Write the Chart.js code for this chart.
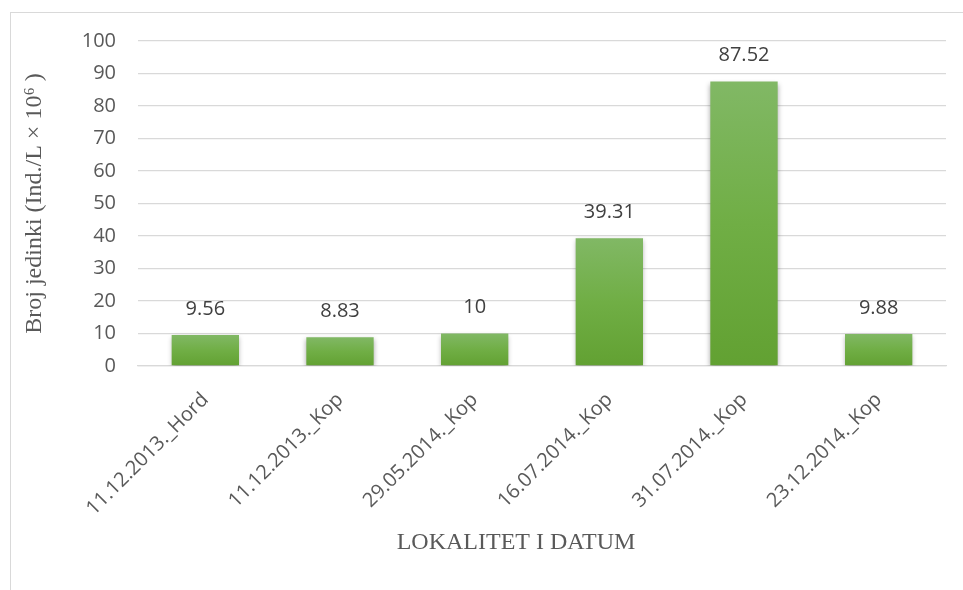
<!DOCTYPE html>
<html>
<head>
<meta charset="utf-8">
<script src="https://cdn.jsdelivr.net/npm/chart.js@4/dist/chart.umd.min.js"></script>
<style>
  html, body { margin: 0; padding: 0; background: #fff; }
  #frame {
    position: absolute; left: 10px; top: 12px; width: 960px; height: 600px;
    border-left: 1px solid #d9d9d9; border-top: 1px solid #d9d9d9;
  }
  #wrap { position: absolute; left: 0; top: 0; width: 963px; height: 590px; }
</style>
</head>
<body>
<div id="frame"></div>
<div id="wrap"><canvas id="barChart"></canvas></div>
<script>
const categories = ['11.12.2013._Hord', '11.12.2013._Kop', '29.05.2014._Kop', '16.07.2014._Kop', '31.07.2014._Kop', '23.12.2014._Kop'];
const values = [9.56, 8.83, 10, 39.31, 87.52, 9.88];
const valueLabels = ['9.56', '8.83', '10', '39.31', '87.52', '9.88'];
const yTicks = [0, 10, 20, 30, 40, 50, 60, 70, 80, 90, 100];

const labelFont = '"Open Sans", sans-serif';
const titleFont = '"Liberation Serif", "Times New Roman", serif';

function barGradient(context) {
  const chart = context.chart;
  const { ctx, chartArea, scales } = chart;
  if (!chartArea || context.dataIndex === undefined) return '#70ad47';
  const top = scales.y.getPixelForValue(values[context.dataIndex]);
  const bottom = scales.y.getPixelForValue(0);
  const g = ctx.createLinearGradient(0, top, 0, bottom);
  g.addColorStop(0, '#81b865');
  g.addColorStop(0.5, '#70ae45');
  g.addColorStop(1, '#62a132');
  return g;
}

// soft shadow under the bars
const barShadow = {
  id: 'barShadow',
  beforeDatasetsDraw(chart) {
    const ctx = chart.ctx;
    ctx.save();
    ctx.shadowColor = 'rgba(0,0,0,0.35)';
    ctx.shadowBlur = 5;
    ctx.shadowOffsetY = 2;
  },
  afterDatasetsDraw(chart) {
    chart.ctx.restore();
  }
};

// value labels above bars + x axis title
const extraText = {
  id: 'extraText',
  afterDraw(chart) {
    const ctx = chart.ctx;
    ctx.save();
    ctx.font = '20px ' + labelFont;
    ctx.fillStyle = '#404040';
    ctx.textAlign = 'center';
    ctx.textBaseline = 'middle';
    chart.getDatasetMeta(0).data.forEach((bar, i) => {
      ctx.fillText(valueLabels[i], bar.x, bar.y - 26);
    });
    ctx.font = '24px ' + titleFont;
    ctx.fillStyle = '#595959';
    ctx.fillText('LOKALITET I DATUM', 516, 543);
    ctx.restore();
  }
};

new Chart(document.getElementById('barChart').getContext('2d'), {
  type: 'bar',
  data: {
    labels: categories,
    datasets: [{
      data: values,
      backgroundColor: barGradient,
      borderWidth: 0,
      barPercentage: 0.5,
      categoryPercentage: 1
    }]
  },
  options: {
    responsive: true,
    maintainAspectRatio: false,
    animation: false,
    layout: { padding: { left: 0, right: 17, top: 41, bottom: 0 } },
    plugins: {
      legend: { display: false },
      tooltip: { enabled: false }
    },
    scales: {
      y: {
        min: 0,
        max: 100,
        afterBuildTicks: axis => { axis.ticks = yTicks.map(v => ({ value: v })); },
        afterFit: axis => { axis.width = 138; },
        ticks: {
          padding: 22,
          color: '#595959',
          font: { family: labelFont, size: 20 }
        },
        grid: { color: '#d9d9d9', lineWidth: 1.3, drawTicks: false },
        border: { display: false },
        title: {
          display: true,
          text: 'Broj jedinki (Ind./L × 10⁶ )',
          color: '#595959',
          font: { family: titleFont, size: 24 },
          padding: { top: 20, bottom: 0 }
        }
      },
      x: {
        afterFit: axis => { axis.height = 224; },
        ticks: {
          minRotation: 45,
          maxRotation: 45,
          autoSkip: false,
          padding: 22,
          color: '#595959',
          font: { family: labelFont, size: 20 }
        },
        grid: { display: false, drawTicks: false },
        border: { color: '#d9d9d9', width: 1.3 }
      }
    }
  },
  plugins: [barShadow, extraText]
});
</script>
</body>
</html>
